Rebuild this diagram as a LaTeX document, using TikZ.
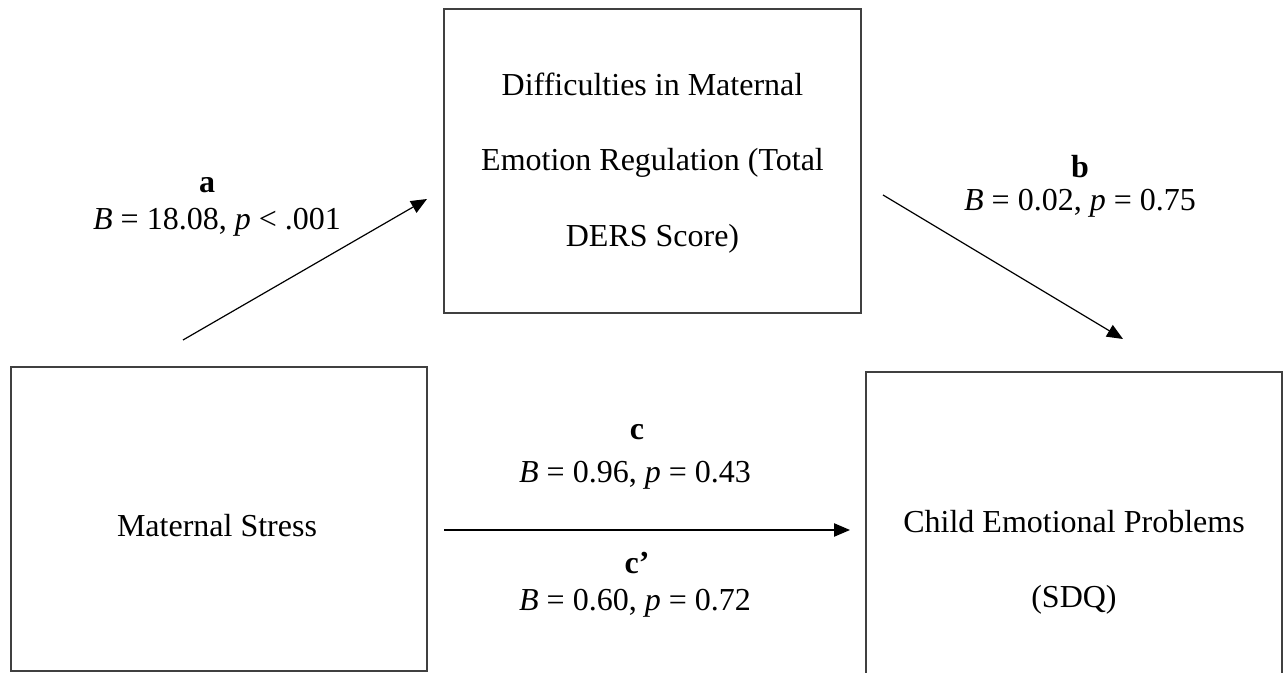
\documentclass[tikz,border=0pt]{standalone}
\usepackage{fontspec}
\setmainfont{Liberation Serif}
\usetikzlibrary{arrows.meta,positioning}
\tikzset{
  varbox/.style={draw=black!75,line width=0.5pt,inner sep=0pt,outer sep=0pt},
  boxtext/.style={align=center,font=\fontsize{12}{28.2}\selectfont},
  pathlabel/.style={align=center,font=\fontsize{12}{13.8}\selectfont,inner sep=0pt},
  effect/.style={-{Triangle[length=6pt,width=5pt]},line width=0.45pt}
}
\begin{document}
\begin{tikzpicture}[x=0.375pt,y=-0.375pt]
\clip (0,0) rectangle (1283,673);
\fill[white] (0,0) rectangle (1283,673);
% boxes
\node[varbox,minimum width=156.4pt,minimum height=114pt] (ders) at (652.5,161) {};
\node[varbox,minimum width=156pt,minimum height=114pt] (stress) at (219,519) {};
\node[varbox,minimum width=156pt,minimum height=114pt] (sdq) at (1074,524) {};
\node[boxtext] (derstext) at (652.5,163) {Difficulties in Maternal\\Emotion Regulation (Total\\DERS Score)};
\node[boxtext] (stresstext) at (217,526) {Maternal Stress};
\node[boxtext] (sdqtext) at (1074,562) {Child Emotional Problems\\(SDQ)};
% paths
\coordinate (a0) at (183,340);
\coordinate (a1) at (427,199);
\coordinate (b0) at (883,195);
\coordinate (b1) at (1123,339);
\coordinate (c0) at (444,530);
\coordinate (c1) at (850,530);
\draw[effect] (a0) -- (a1);
\draw[effect] (b0) -- (b1);
\draw[effect] (c0) -- (c1);
% labels
\node[pathlabel] (alab) at (207,185) {\textbf{a}};
\node[pathlabel] (astat) at (217,222) {\textit{B} = 18.08, \textit{p} < .001};
\node[pathlabel] (blab) at (1080,167) {\textbf{b}};
\node[pathlabel] (bstat) at (1080,203) {\textit{B} = 0.02, \textit{p} = 0.75};
\node[pathlabel] (clab) at (637,432) {\textbf{c}};
\node[pathlabel] (cstat) at (635,475) {\textit{B} = 0.96, \textit{p} = 0.43};
\node[pathlabel] (cplab) at (637,563) {\textbf{c’}};
\node[pathlabel] (cpstat) at (635,603) {\textit{B} = 0.60, \textit{p} = 0.72};
\end{tikzpicture}
\end{document}
